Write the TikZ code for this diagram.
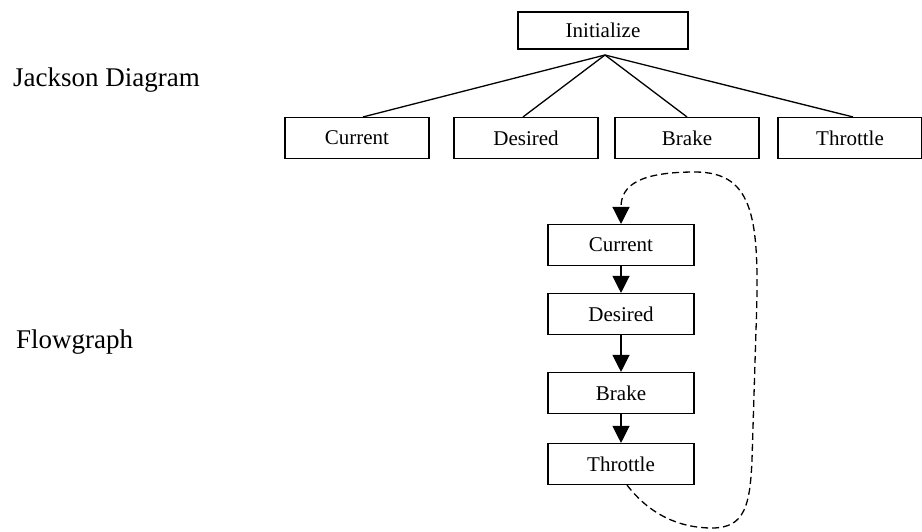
\documentclass[tikz,border=0pt]{standalone}
\usepackage{fontspec}
\setmainfont{Liberation Serif}
\usetikzlibrary{arrows.meta}
\tikzset{
  box/.style={draw=black, line width=1.1pt, rectangle, inner sep=0pt, font=\fontsize{21}{24}\selectfont},
  jbox/.style={box, minimum width=144pt, minimum height=41pt},
  fbox/.style={box, minimum width=146pt, minimum height=41pt},
  label/.style={inner sep=0pt, anchor=west, font=\fontsize{27}{32}\selectfont},
  tree/.style={line width=1.3pt},
  flow/.style={line width=1.2pt, -{Triangle[width=17pt,length=17pt]}},
  loop/.style={line width=1.3pt, dash pattern=on 7pt off 4pt, -{Triangle[width=17pt,length=17pt]}}
}
\begin{document}
\begin{tikzpicture}[x=1pt,y=-1pt]
\useasboundingbox (0,0) rectangle (922,531);
% labels
\node[label] (jl) at (13,80) {Jackson Diagram};
\node[label] (fl) at (16,342) {Flowgraph};
% Jackson diagram
\node[box, minimum width=170pt, minimum height=37pt] (init) at (603,30.5) {Initialize};
\coordinate (hub) at (605,55);
\node[jbox] (jc) at (357,138) {Current};
\node[jbox] (jd) at (526,138) {Desired};
\node[jbox] (jb) at (687,138) {Brake};
\node[jbox] (jt) at (850,138) {Throttle};
\draw[tree] (hub) -- ([xshift=6pt]jc.north);
\draw[tree] (hub) -- ([xshift=-3pt]jd.north);
\draw[tree] (hub) -- (jb.north);
\draw[tree] (hub) -- ([xshift=3pt]jt.north);
% Flowgraph
\node[fbox] (fc) at (621,245) {Current};
\node[fbox] (fd) at (621,314) {Desired};
\node[fbox] (fb) at (621,393) {Brake};
\node[fbox] (ft) at (621,464) {Throttle};
\draw[flow] (fc) -- (fd);
\draw[flow] (fd) -- (fb);
\draw[flow] (fb) -- (ft);
\coordinate (lb) at (712,528);
\coordinate (lr) at (756,330);
\coordinate (lt) at (695,172);
\draw[loop] ([xshift=6pt]ft.south) .. controls (650,515) and (680,528) .. (lb)
  .. controls (745,528) and (750,505) .. (752,460)
  -- (lr)
  .. controls (760,220) and (755,172) .. (lt)
  .. controls (640,172) and (621,185) .. (fc.north);
\end{tikzpicture}
\end{document}
